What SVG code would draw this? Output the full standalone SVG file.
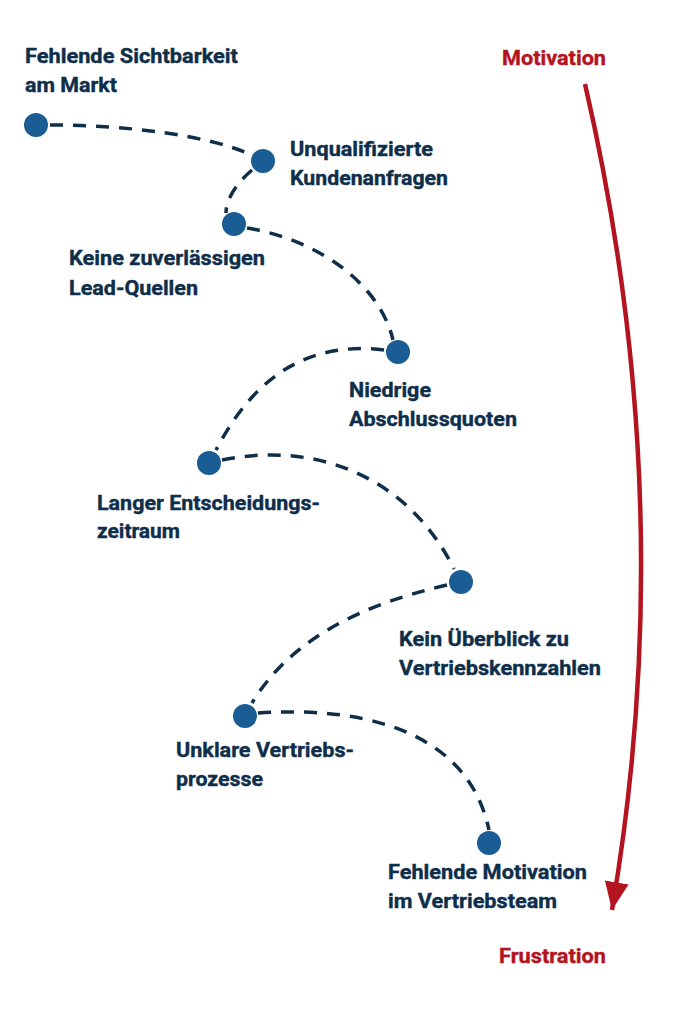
<svg xmlns="http://www.w3.org/2000/svg" width="683" height="1024" viewBox="0 0 683 1024">
<style>
.lbl{font-family:"Roboto","Liberation Sans",sans-serif;font-weight:700;font-size:21px;fill:#0e2e4a;stroke:#0e2e4a;stroke-width:0.4}
.red{font-family:"Roboto","Liberation Sans",sans-serif;font-weight:700;font-size:21px;fill:#b3141f;stroke:#b3141f;stroke-width:0.4}
.dot{fill:#1a5c94}
.dash{fill:none;stroke:#0e2e4a;stroke-width:3.5;stroke-dasharray:13 10}
.arr{fill:none;stroke:#b3141f;stroke-width:4.5}
</style>
<defs>
<marker id="ah" markerUnits="userSpaceOnUse" markerWidth="30" markerHeight="24" refX="28" refY="12" orient="auto">
<path d="M0,0 L28,12 L0,24 Z" fill="#b3141f"/>
</marker>
</defs>
<rect width="683" height="1024" fill="#fff"/>
<g id="connectors">
<path class="dash" d="M50,125 C130,125 210,136 252,155"/>
<path class="dash" d="M252,170 C238,182 226,198 226,213"/>
<path class="dash" d="M247,228 C320,240 380,285 393,340"/>
<path class="dash" d="M384,350 C300,340 250,385 216,450"/>
<path class="dash" d="M222,460 C320,440 410,480 454,569"/>
<path class="dash" d="M447,585 C360,605 290,640 252,703"/>
<path class="dash" d="M258,713 C380,705 470,740 489,830"/>
</g>
<g id="axis">
<path class="arr" d="M585,84 Q681.5,502 612,910" marker-end="url(#ah)"/>
<text class="red" x="502" y="65" textLength="104" lengthAdjust="spacingAndGlyphs">Motivation</text>
<text class="red" x="499" y="963" textLength="107" lengthAdjust="spacingAndGlyphs">Frustration</text>
</g>
<g id="n1">
<circle class="dot" cx="36" cy="125" r="12"/>
<text class="lbl" x="25" y="63" textLength="213" lengthAdjust="spacingAndGlyphs">Fehlende Sichtbarkeit</text>
<text class="lbl" x="25" y="92" textLength="92" lengthAdjust="spacingAndGlyphs">am Markt</text>
</g>
<g id="n2">
<circle class="dot" cx="263" cy="161" r="12"/>
<text class="lbl" x="290" y="156" textLength="143" lengthAdjust="spacingAndGlyphs">Unqualifizierte</text>
<text class="lbl" x="290" y="185" textLength="158" lengthAdjust="spacingAndGlyphs">Kundenanfragen</text>
</g>
<g id="n3">
<circle class="dot" cx="234" cy="224" r="12"/>
<text class="lbl" x="69" y="265" textLength="196" lengthAdjust="spacingAndGlyphs">Keine zuverlässigen</text>
<text class="lbl" x="69" y="295" textLength="129" lengthAdjust="spacingAndGlyphs">Lead-Quellen</text>
</g>
<g id="n4">
<circle class="dot" cx="398" cy="352" r="12"/>
<text class="lbl" x="349" y="397" textLength="82" lengthAdjust="spacingAndGlyphs">Niedrige</text>
<text class="lbl" x="349" y="426" textLength="168" lengthAdjust="spacingAndGlyphs">Abschlussquoten</text>
</g>
<g id="n5">
<circle class="dot" cx="209" cy="463" r="12"/>
<text class="lbl" x="97" y="510" textLength="223" lengthAdjust="spacingAndGlyphs">Langer Entscheidungs-</text>
<text class="lbl" x="97" y="538" textLength="83" lengthAdjust="spacingAndGlyphs">zeitraum</text>
</g>
<g id="n6">
<circle class="dot" cx="461" cy="582" r="12"/>
<text class="lbl" x="399" y="646" textLength="170" lengthAdjust="spacingAndGlyphs">Kein Überblick zu</text>
<text class="lbl" x="399" y="675" textLength="202" lengthAdjust="spacingAndGlyphs">Vertriebskennzahlen</text>
</g>
<g id="n7">
<circle class="dot" cx="245" cy="716" r="12"/>
<text class="lbl" x="176" y="757" textLength="178" lengthAdjust="spacingAndGlyphs">Unklare Vertriebs-</text>
<text class="lbl" x="176" y="786" textLength="87" lengthAdjust="spacingAndGlyphs">prozesse</text>
</g>
<g id="n8">
<circle class="dot" cx="489" cy="843" r="12"/>
<text class="lbl" x="388" y="879" textLength="199" lengthAdjust="spacingAndGlyphs">Fehlende Motivation</text>
<text class="lbl" x="388" y="908" textLength="169" lengthAdjust="spacingAndGlyphs">im Vertriebsteam</text>
</g>
</svg>
